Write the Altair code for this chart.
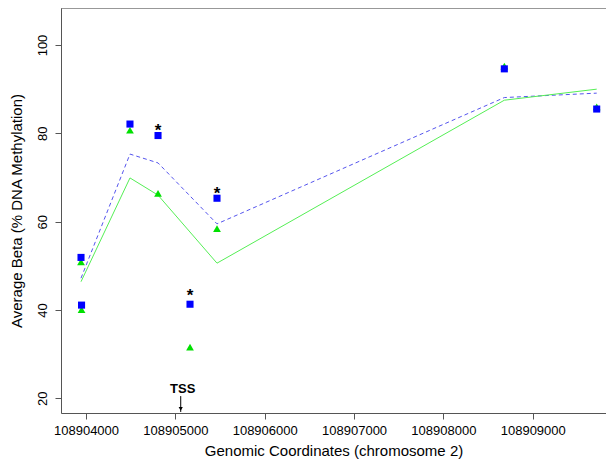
import altair as alt
import pandas as pd

FONT = "Liberation Sans"

# point positions (genomic coordinates) and methylation values
pt_x = [108903944, 108903950, 108904492, 108904806, 108905164, 108905466, 108908682, 108909716]
blue_y = [51.9, 41.1, 82.1, 79.5, 41.3, 65.3, 94.6, 85.5]
green_y = [50.9, 40.1, 80.7, 66.4, 31.6, 58.4, 95.2, 86.0]

# average lines
line_x = [108903944, 108904492, 108904806, 108905466, 108908682, 108909716]
blue_line = [47.2, 75.3, 73.3, 59.5, 88.1, 89.1]
green_line = [46.4, 69.9, 66.0, 50.6, 87.5, 90.0]

# significance stars
star_x = [108904806, 108905466, 108905164]
star_y = [81.6, 67.4, 44.3]

# TSS annotation
tss_x = [108905060]
tss_label = ["TSS"]

x_ticks = [108904000, 108905000, 108906000, 108907000, 108908000, 108909000]
y_ticks = [20, 40, 60, 80, 100]

XDOM = [108903720, 108909820]
YDOM = [16.67, 108.38]

W, H = 545, 405

xs = alt.Scale(domain=XDOM, nice=False, zero=False)
ys = alt.Scale(domain=YDOM, nice=False, zero=False)

xaxis = alt.Axis(values=x_ticks, format="d", grid=False, labelFont=FONT, labelFontSize=13,
                 labelColor="#000", tickColor="#555", domainColor="#555", tickSize=6,
                 labelPadding=5, title="Genomic Coordinates (chromosome 2)", titleFont=FONT,
                 titleFontSize=15, titleFontWeight="normal", titleColor="#000", titlePadding=6,
                 labelFlush=False, labelOverlap=False)
yaxis = alt.Axis(values=y_ticks, grid=False, labelFont=FONT, labelFontSize=13, labelColor="#000",
                 tickColor="#555", domainColor="#555", tickSize=6, labelAngle=270,
                 labelAlign="center", labelBaseline="bottom", labelPadding=6,
                 title="Average Beta (% DNA Methylation)", titleFont=FONT, titleFontSize=15,
                 titleFontWeight="normal", titleColor="#000", titlePadding=12)

lines_df = pd.DataFrame({
    "x": line_x * 2,
    "y": blue_line + green_line,
    "series": ["blue"] * len(line_x) + ["green"] * len(line_x),
})
pts_df = pd.DataFrame({"x": pt_x, "blue": blue_y, "green": green_y})
stars_df = pd.DataFrame({"x": star_x, "y": star_y, "t": ["*"] * len(star_x)})
tss_df = pd.DataFrame({"x": tss_x, "t": tss_label, "ty": [22.1], "y1": [20.5], "y2": [16.9], "ah": [17.6]})

base_x = alt.X("x:Q", scale=xs, axis=xaxis)

blue_ln = alt.Chart(lines_df).transform_filter(alt.datum.series == "blue").mark_line(
    color="#5555EE", strokeWidth=1, strokeDash=[4, 3]).encode(
    x=base_x, y=alt.Y("y:Q", scale=ys, axis=yaxis))
green_ln = alt.Chart(lines_df).transform_filter(alt.datum.series == "green").mark_line(
    color="#55EE55", strokeWidth=1).encode(
    x=alt.X("x:Q", scale=xs), y=alt.Y("y:Q", scale=ys))

tri = alt.Chart(pts_df).mark_point(shape="triangle-up", filled=True, color="#00E000", size=60, opacity=1).encode(
    x=alt.X("x:Q", scale=xs), y=alt.Y("green:Q", scale=ys))
sq = alt.Chart(pts_df).mark_point(shape="square", filled=True, color="#0000FF", size=50, opacity=1).encode(
    x=alt.X("x:Q", scale=xs), y=alt.Y("blue:Q", scale=ys))

stars = alt.Chart(stars_df).mark_text(font=FONT, fontSize=17, fontWeight="bold", color="#000",
                                      baseline="middle", dy=5).encode(
    x=alt.X("x:Q", scale=xs), y=alt.Y("y:Q", scale=ys), text="t:N")

tss_txt = alt.Chart(tss_df).mark_text(font=FONT, fontSize=13, fontWeight="bold", color="#000",
                                      baseline="middle", dx=2).encode(
    x=alt.X("x:Q", scale=xs), y=alt.Y("ty:Q", scale=ys), text="t:N")
tss_rule = alt.Chart(tss_df).mark_rule(color="#000", strokeWidth=1).encode(
    x=alt.X("x:Q", scale=xs), y=alt.Y("y1:Q", scale=ys), y2="y2:Q")
tss_head = alt.Chart(tss_df).mark_point(shape="triangle-down", filled=True, color="#000", size=18, opacity=1).encode(
    x=alt.X("x:Q", scale=xs), y=alt.Y("ah:Q", scale=ys))

top_rule = alt.Chart(tss_df).mark_rule(color="#555", strokeWidth=1).encode(
    x=alt.value(0), x2=alt.value(W), y=alt.value(0))

chart = alt.layer(blue_ln, green_ln, tri, sq, stars, tss_rule, tss_head, tss_txt, top_rule).properties(
    width=W, height=H,
    autosize=alt.AutoSizeParams(type="none"),
    padding={"left": 53, "top": 0, "right": 0, "bottom": 46},
).configure_view(stroke=None).configure(background="white")

chart.save("out.html", embed_options={"renderer": "svg", "actions": False})
